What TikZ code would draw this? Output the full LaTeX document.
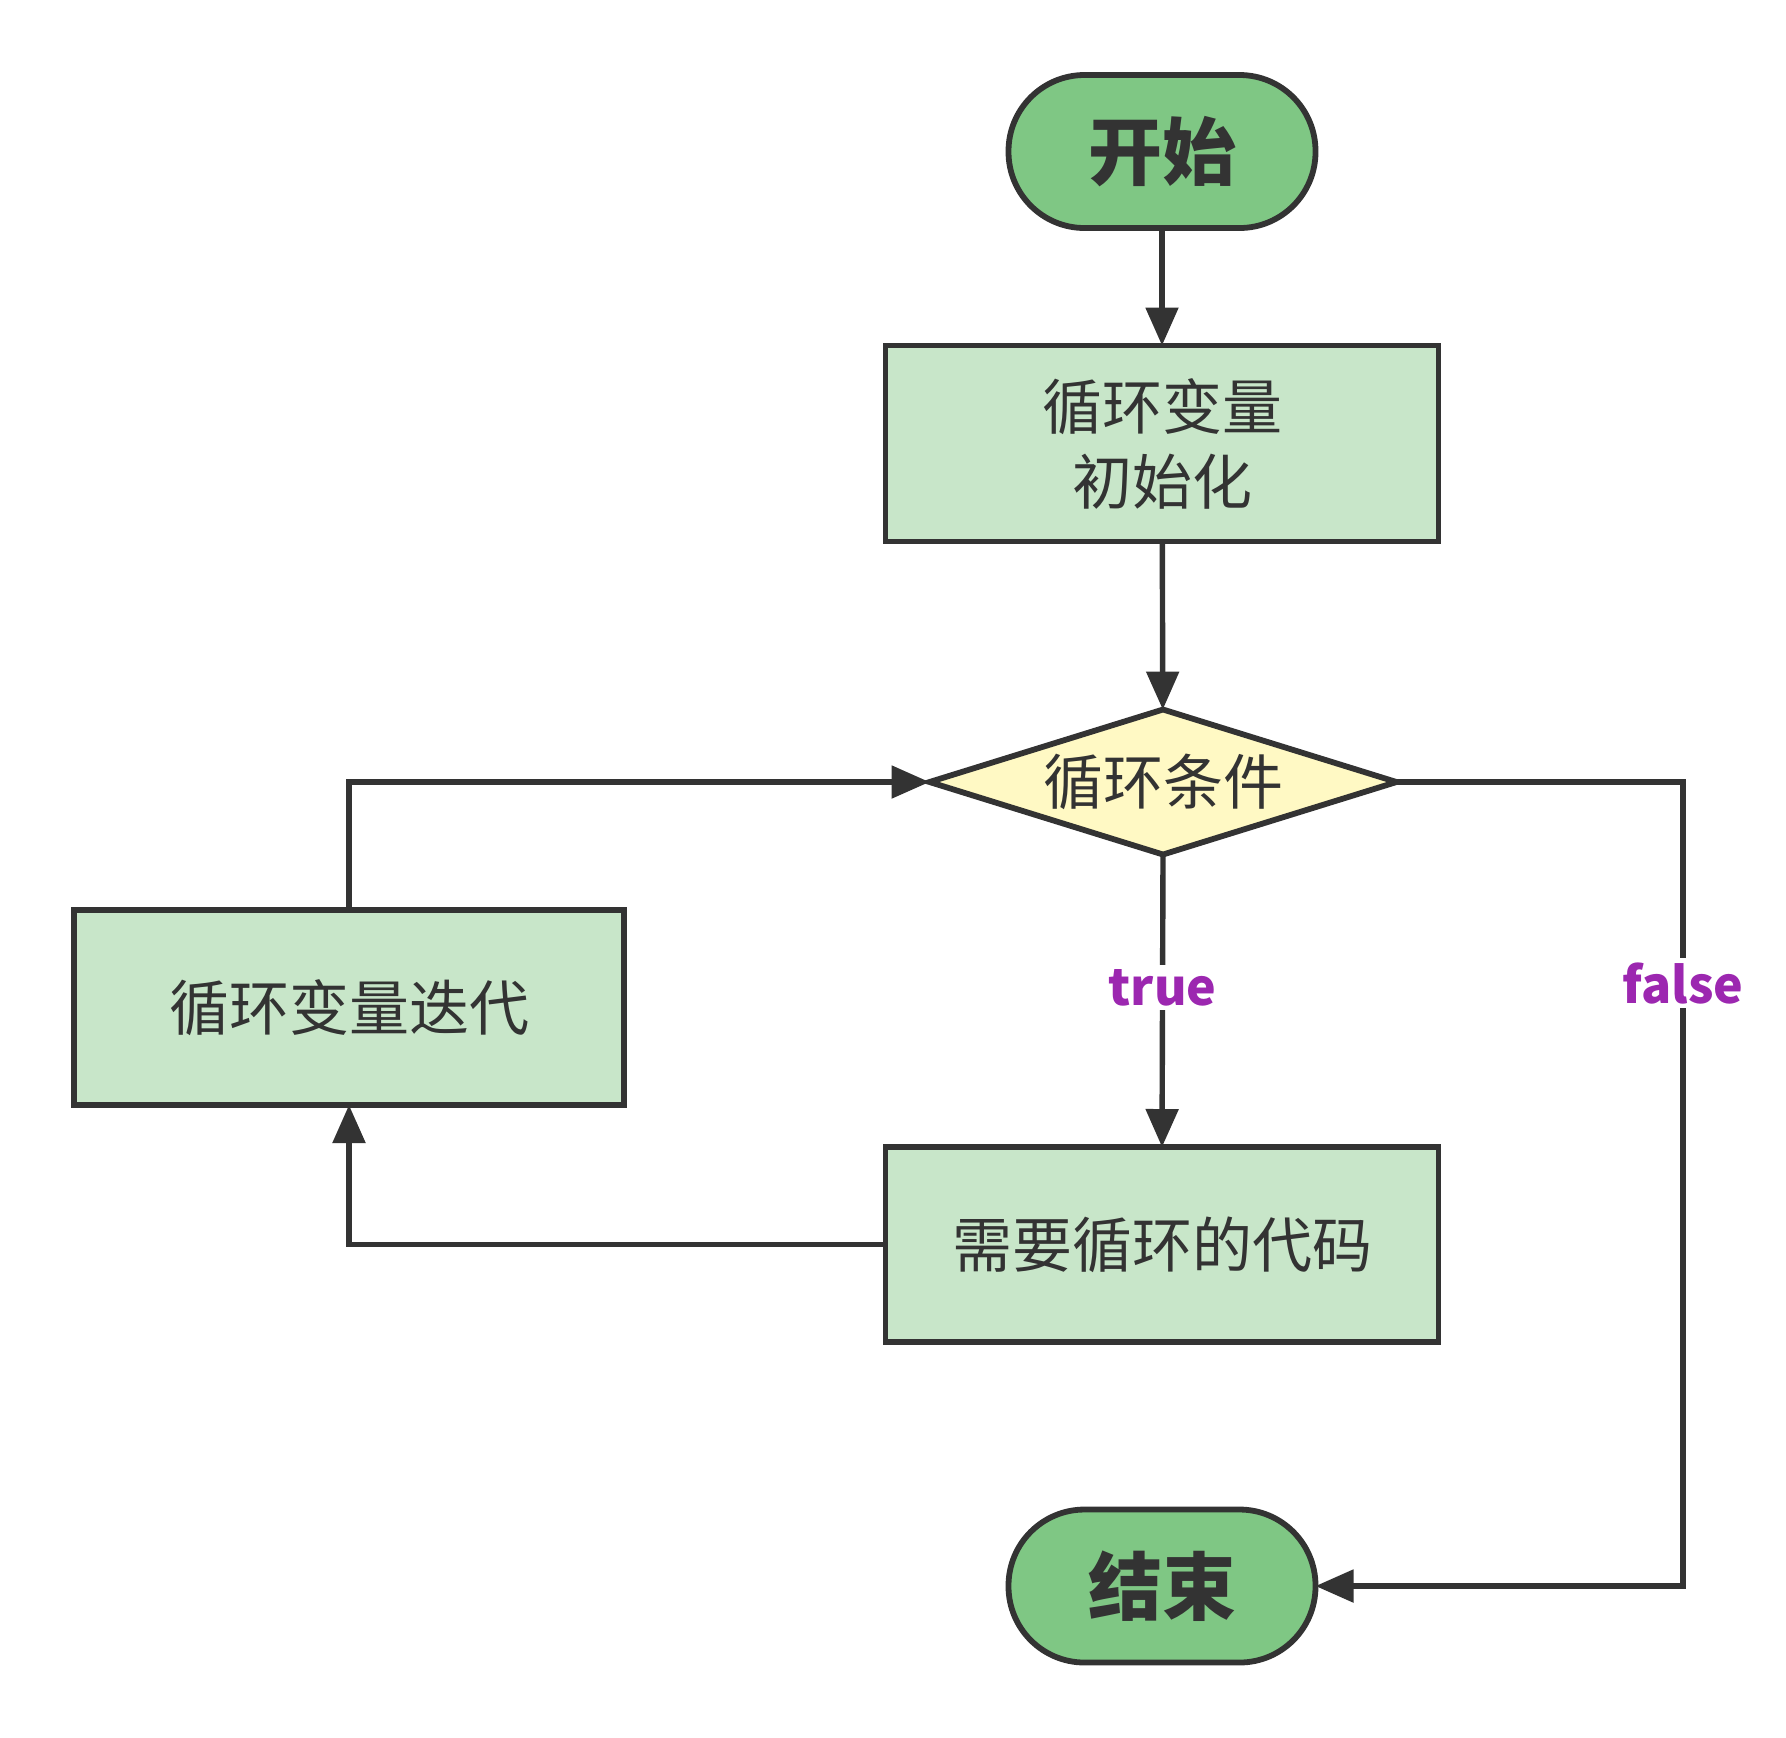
\documentclass[tikz,border=0pt]{standalone}
\usepackage{fontspec}
\setmainfont{Noto Sans CJK SC}
\usetikzlibrary{arrows.meta,shapes.geometric}
\definecolor{ink}{HTML}{333333}
\definecolor{termfill}{HTML}{7FC784}
\definecolor{boxfill}{HTML}{C8E6C9}
\definecolor{decfill}{HTML}{FFF9C4}
\definecolor{lblcol}{HTML}{9C27B0}
\tikzset{
  base/.style={draw=ink, line width=2.9pt, text=ink, inner sep=0pt, outer sep=0pt},
  term/.style={base, fill=termfill, rounded corners=38pt, minimum width=153.5pt, minimum height=76.5pt, font=\fontsize{37}{44}\selectfont\bfseries},
  procbox/.style={base, fill=boxfill, minimum width=276.5pt, minimum height=98pt, font=\fontsize{30}{37.5}\selectfont, align=center},
  decision/.style={base, fill=decfill, shape=diamond, aspect=3.2, minimum width=233.5pt, minimum height=72.5pt, font=\fontsize{30}{37.5}\selectfont},
  conn/.style={draw=ink, line width=2.7pt, -{Triangle[length=19pt,width=16pt]}},
  lbl/.style={fill=white, text=lblcol, inner sep=2pt, font=\fontsize{25}{30}\selectfont\bfseries}
}
\begin{document}
\begin{tikzpicture}[x=0.5pt,y=-0.5pt]
\useasboundingbox (0,0) rectangle (1786,1737);
\node[term] (start) at (1162,151.5) {开始};
\node[procbox] (init) at (1162,443.5) {循环变量\\初始化};
\node[decision] (cond) at (1163,782) {循环条件};
\node[procbox, minimum width=275pt, minimum height=97.5pt] (iter) at (349,1007.5) {循环变量迭代};
\node[procbox, minimum height=97.5pt] (code) at (1162,1244.5) {需要循环的代码};
\node[term] (stop) at (1162,1586) {结束};
\coordinate (fx) at (1683,782);
\coordinate (fy) at (1683,1586);
\draw[conn] (start) -- (init);
\draw[conn] (init) -- (cond);
\draw[conn] (cond.south) -- node[lbl, pos=0.455] {true} (code.north);
\draw[conn] (code.west) -| (iter.south);
\draw[conn] (iter.north) |- (cond.west);
\draw[conn] (cond.east) -- (fx) -- node[lbl, pos=0.25] {false} (fy) -- (stop.east);
\end{tikzpicture}
\end{document}
